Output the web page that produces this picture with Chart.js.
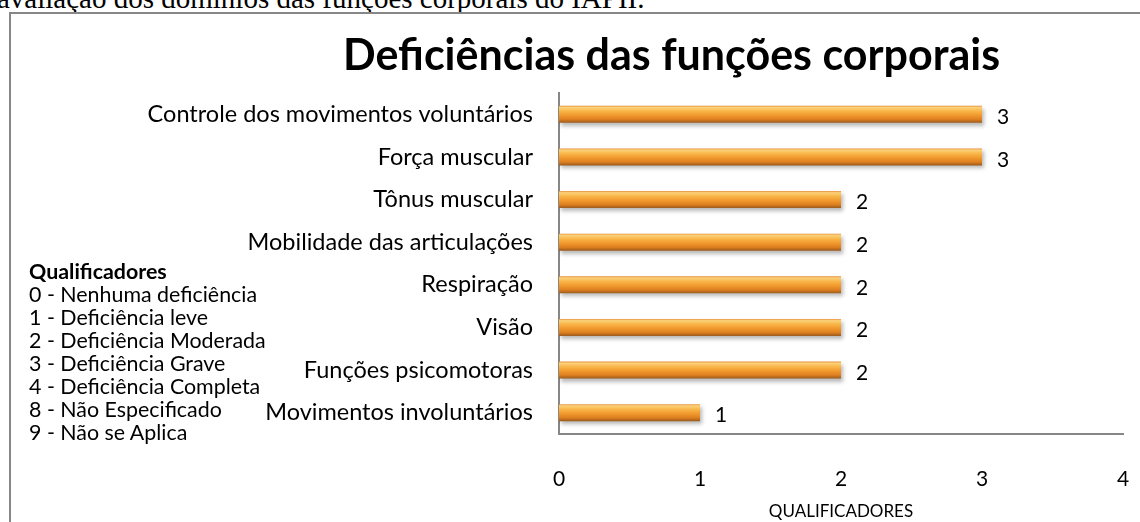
<!DOCTYPE html>
<html lang="pt">
<head>
    <meta charset="UTF-8">
    <title>Deficiências das funções corporais</title>
    <script src="https://cdn.jsdelivr.net/npm/chart.js"></script>
    <style>
        html, body { margin: 0; padding: 0; background: #fff; overflow: hidden; }
        #wrap { position: relative; width: 1140px; height: 522px; }
        #chartBox { position: absolute; left: 0; top: 0; width: 1140px; height: 522px; }
        #caption {
            position: absolute; left: -3px; top: -16px; white-space: nowrap;
            font-family: 'Liberation Serif', serif; font-size: 29px; line-height: 29px; color: #000;
        }
        #frame {
            position: absolute; left: 9px; top: 12px; width: 1200px; height: 600px;
            border: 2px solid #878787; box-sizing: border-box;
        }
        #title {
            position: absolute; left: 343px; top: 32px; white-space: nowrap;
            font-family: Lato, sans-serif; font-weight: bold; font-size: 43px; line-height: 43px; color: #000;
        }
        #quals {
            position: absolute; left: 29px; top: 260px;
            font-family: Lato, sans-serif; font-size: 21.4px; line-height: 23px; color: #000;
        }
        #quals b { font-weight: bold; }
    </style>
</head>
<body>
<div id="wrap">
    <div id="caption">avaliação dos domínios das funções corporais do IAPII.</div>
    <div id="frame"></div>
    <div id="chartBox"><canvas id="defChart"></canvas></div>
    <div id="title">Deficiências das funções corporais</div>
    <div id="quals"></div>
</div>
<script>
    // categories from top to bottom
    const categories = [
        'Controle dos movimentos voluntários',
        'Força muscular',
        'Tônus muscular',
        'Mobilidade das articulações',
        'Respiração',
        'Visão',
        'Funções psicomotoras',
        'Movimentos involuntários'
    ];
    const values = [3, 3, 2, 2, 2, 2, 2, 1];
    const xTicks = [0, 1, 2, 3, 4];
    const qualHeader = 'Qualificadores';
    const qualItems = [
        '0 - Nenhuma deficiência',
        '1 - Deficiência leve',
        '2 - Deficiência Moderada',
        '3 - Deficiência Grave',
        '4 - Deficiência Completa',
        '8 - Não Especificado',
        '9 - Não se Aplica'
    ];

    document.getElementById('quals').innerHTML =
        '<b>' + qualHeader + '</b><br>' + qualItems.join('<br>');

    const ctx = document.getElementById('defChart').getContext('2d');
    const BAR_PCT = 0.4;

    // orange "tube" gradient for each bar, built from the scale
    function barFill(c) {
        const chart = c.chart;
        const yScale = chart.scales.y;
        if (!yScale || c.dataIndex === undefined) return '#f0a030';
        const mid = yScale.getPixelForValue(c.dataIndex);
        const band = Math.abs(yScale.getPixelForValue(1) - yScale.getPixelForValue(0));
        const half = band * BAR_PCT / 2;
        if (!isFinite(mid) || !isFinite(half) || half <= 0) return '#f0a030';
        const g = chart.ctx.createLinearGradient(0, mid - half, 0, mid + half);
        g.addColorStop(0, '#e8913c');
        g.addColorStop(0.1, '#fbd27a');
        g.addColorStop(0.3, '#f9b64a');
        g.addColorStop(0.55, '#f19a2e');
        g.addColorStop(0.8, '#dd7f20');
        g.addColorStop(1, '#9a5a1c');
        return g;
    }

    const barShadow = {
        id: 'barShadow',
        beforeDatasetDraw(chart) {
            const c = chart.ctx;
            c.save();
            c.shadowColor = 'rgba(0,0,0,0.28)';
            c.shadowBlur = 4;
            c.shadowOffsetY = 3;
            c.shadowOffsetX = 2;
        },
        afterDatasetDraw(chart) {
            chart.ctx.restore();
        }
    };

    const valueLabels = {
        id: 'valueLabels',
        afterDatasetsDraw(chart) {
            const c = chart.ctx;
            const meta = chart.getDatasetMeta(0);
            c.save();
            c.font = '21px Lato, sans-serif';
            c.fillStyle = '#000';
            c.textAlign = 'left';
            c.textBaseline = 'middle';
            meta.data.forEach((bar, i) => {
                c.fillText(String(values[i]), bar.x + 15, bar.y + 3);
            });
            c.restore();
        }
    };

    new Chart(ctx, {
        type: 'bar',
        data: {
            labels: categories,
            datasets: [{
                data: values,
                backgroundColor: barFill,
                borderWidth: 0,
                barPercentage: BAR_PCT,
                categoryPercentage: 1
            }]
        },
        options: {
            indexAxis: 'y',
            responsive: true,
            maintainAspectRatio: false,
            animation: false,
            layout: { padding: { top: 93, right: 17, left: 0, bottom: 0 } },
            plugins: {
                legend: { display: false },
                tooltip: { enabled: false },
                title: { display: false }
            },
            scales: {
                x: {
                    min: 0,
                    max: 4,
                    afterBuildTicks(scale) {
                        scale.ticks = xTicks.map(v => ({ value: v }));
                    },
                    afterFit(scale) {
                        scale.height = 88;
                        scale.paddingLeft = 0;
                        scale.paddingRight = 0;
                    },
                    grid: { display: false, drawTicks: false },
                    border: { display: true, color: '#878787', width: 2 },
                    ticks: {
                        color: '#000',
                        padding: 33,
                        font: { family: 'Lato', size: 21 }
                    },
                    title: {
                        display: true,
                        text: 'QUALIFICADORES',
                        color: '#000',
                        font: { family: 'Lato', size: 17 },
                        padding: { top: 0, bottom: 0 }
                    }
                },
                y: {
                    afterFit(scale) { scale.width = 559; },
                    grid: { display: false, drawTicks: false },
                    border: { display: true, color: '#878787', width: 2 },
                    ticks: {
                        color: '#000',
                        padding: 26,
                        font: { family: 'Lato', size: 23.5 }
                    }
                }
            }
        },
        plugins: [barShadow, valueLabels]
    });
</script>
</body>
</html>
